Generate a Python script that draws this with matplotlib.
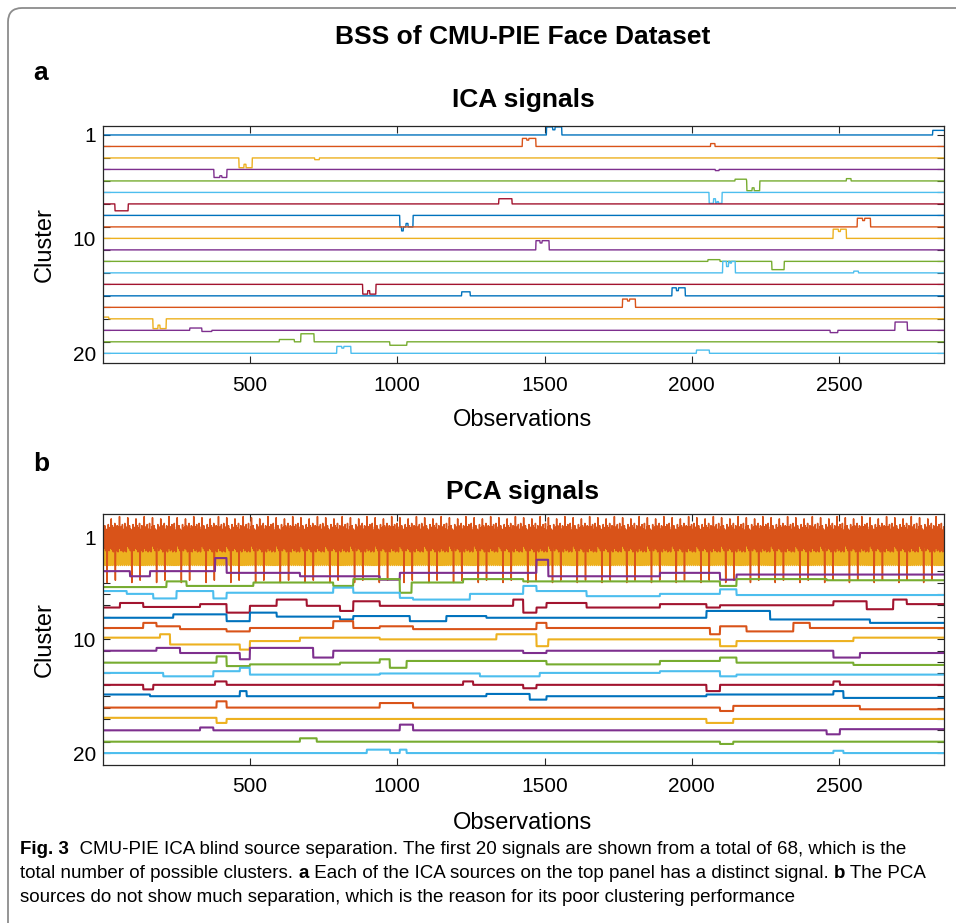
import numpy as np
import matplotlib.pyplot as plt
from matplotlib.patches import FancyBboxPatch
from matplotlib.transforms import IdentityTransform

n_obs = 2856
obs = np.arange(1, n_obs + 1)
clusters = np.arange(1, 21)
labelled = [1, 10, 20]
xticks = [500, 1000, 1500, 2000, 2500]

# ICA sources: flat signals with short pulses (start obs, end obs, height, up = positive)
# later entries of a source overwrite earlier ones (notches inside pulses)
ica_pulses = [
    [(1507, 1558, 0.7), (1528, 1535, 0.45), (2818, 2856, 0.4)],
    [(1425, 1470, 0.7), (1440, 1446, 0.55), (2064, 2078, 0.25)],
    [(463, 507, -0.85), (480, 486, -0.55), (720, 735, -0.15)],
    [(378, 421, -0.7), (398, 404, -0.55), (2080, 2092, -0.1)],
    [(2147, 2185, 0.15), (2187, 2230, -0.85), (2205, 2211, -0.6), (2525, 2540, 0.2)],
    [(2059, 2102, -0.95), (2074, 2080, -0.55), (2086, 2090, -0.8)],
    [(42, 86, -0.6), (1345, 1389, 0.45)],
    [(1009, 1053, -1.0), (1015, 1020, -1.35), (1030, 1036, -0.7)],
    [(2562, 2606, 0.75), (2580, 2586, 0.55)],
    [(2480, 2524, 0.8), (2498, 2504, 0.6)],
    [(1471, 1515, 0.8), (1485, 1491, 0.6)],
    [(2055, 2095, 0.15), (2272, 2313, -0.72)],
    [(2105, 2147, 1.0), (2118, 2124, 0.55), (2130, 2134, 0.85), (2550, 2565, 0.15)],
    [(883, 927, -0.85), (900, 906, -0.55)],
    [(1219, 1247, 0.35), (1933, 1977, 0.7), (1948, 1954, 0.45)],
    [(1765, 1808, 0.72), (1782, 1788, 0.55)],
    [(1, 20, 0.15), (171, 215, -0.85), (188, 194, -0.55)],
    [(296, 336, 0.2), (337, 370, -0.1), (2470, 2495, -0.2), (2690, 2731, 0.72)],
    [(600, 650, 0.2), (673, 717, 0.7), (975, 1032, -0.3)],
    [(795, 842, 0.6), (812, 818, 0.45), (2016, 2059, 0.28)],
]

# PCA sources 1-3: repeating illumination pattern, one cycle each
pca_blue_cycle = [0.4, -0.5, 0.2, -0.6, 0.5, -0.1, -0.5, 0.3, -0.3, 0.6, -0.6, 0.1]
pca_orange_cycle = [
    2.7, 1.0, 1.8, 0.4, 1.3, 0.0, 2.0, 0.6, 1.1, -0.2, 1.7, 0.5, 1.2, -0.3,
    -3.0, 0.4, 1.6, 0.1, 2.1, 0.7, 1.2, -0.2, 1.8, 0.3, 1.0, 0.0, 1.9, 0.5,
    2.6, 0.6, 1.5, -0.1, 2.0, 0.8, 1.1, -0.3, 1.8, 0.2, 0.9, 0.6, 2.2, 0.1,
    -2.8, 0.8, 1.4, -0.2, 1.7, 0.5, 2.0, 0.2, 1.0, -0.3, 1.6, 0.7, 1.9, 0.0,
    2.8, 0.3, 1.6, 0.2, 1.2, -0.2, 1.9, 0.7, 1.1, -0.1, 2.1, 0.4, 1.4, -0.3,
    1.0, 0.2, 1.7, -0.2, 2.2, 0.5, 1.3, 0.0, 1.6, -0.3, 1.0, 0.8, 1.9, 0.2,
]
pca_yellow_cycle = [1.5, -0.3, 0.8, -0.5, 1.2, 0.2, -0.4, 1.0, -0.2, 0.6, -0.5, 1.3, 0.0, -0.3]

# PCA sources 4-20: level changes (from obs, level, up = positive)
pca_steps = [
    [(1, 0), (93, -0.45), (161, 0), (382, 1.15), (421, -0.15), (670, -0.45), (941, -0.75),
     (1009, -0.15), (1473, 1.0), (1513, -0.45), (1892, -0.15), (2096, -0.75), (2152, -0.3)],
    [(1, -0.4), (217, 0.1), (285, -0.3), (512, 0), (783, -0.3), (851, 0.3), (1009, -0.9),
     (1049, 0), (1224, 0.3), (1428, 0.1), (2096, -0.3), (2152, 0.3), (2458, 0.2)],
    [(1, 0.25), (82, 0), (172, -0.4), (251, 0.25), (376, -0.4), (421, 0.1), (783, 0.55),
     (851, 0.1), (1009, -0.35), (1054, -0.5), (1247, 0), (1428, 0.7), (1473, 0.25),
     (1643, -0.2), (1892, 0), (2096, 0.4), (2152, -0.1)],
    [(1, -0.2), (59, 0.2), (138, -0.15), (331, 0.1), (421, -0.65), (500, -0.05), (591, 0.5),
     (693, -0.05), (806, -0.5), (851, 0.35), (941, -0.05), (1394, 0.5), (1428, -0.65),
     (1473, -0.2), (1507, 0.2), (1643, -0.2), (1892, 0.1), (2050, -0.2), (2096, 0),
     (2481, 0.35), (2594, -0.35), (2684, 0.5), (2730, 0.1)],
    [(1, -0.1), (240, 0.2), (421, -0.4), (500, 0.35), (591, 0), (806, -0.25), (851, 0.05),
     (1043, -0.4), (1167, 0.05), (1303, -0.1), (2050, 0.5), (2266, -0.25), (2605, -0.55)],
    [(1, 0), (138, 0.45), (183, 0.15), (263, -0.1), (421, -0.3), (500, 0), (783, 0.6),
     (851, 0), (941, 0.15), (1054, -0.1), (1473, 0.45), (1507, 0), (2062, -0.55),
     (2096, 0.15), (2186, -0.3), (2345, 0.45), (2401, 0)],
    [(1, 0.15), (195, 0.45), (229, -0.45), (466, -0.9), (500, -0.15), (670, 0.15), (941, 0),
     (1337, 0.45), (1473, -0.6), (1513, 0), (2096, -0.6), (2152, -0.15), (2549, 0.15)],
    [(1, 0), (183, 0.25), (263, -0.2), (466, -0.75), (500, 0.25), (715, -0.6), (783, 0),
     (1428, -0.2), (1507, 0), (2481, -0.6), (2571, -0.2)],
    [(1, -0.05), (387, 0.5), (421, -0.35), (500, -0.2), (806, -0.05), (941, 0.25),
     (975, -0.5), (1032, 0.1), (1507, -0.2), (1892, 0.1), (2096, 0.4), (2152, -0.05),
     (2549, -0.25)],
    [(1, 0.05), (206, -0.25), (376, 0.2), (466, 0.5), (500, -0.1), (941, 0), (1281, -0.25),
     (1484, 0.05), (1892, 0.2), (2096, -0.25), (2152, -0.1)],
    [(1, 0), (138, -0.4), (172, 0), (382, 0.3), (421, 0), (1224, 0.3), (1258, 0),
     (1428, -0.3), (1473, 0), (2050, -0.55), (2096, 0), (2481, 0.3), (2503, 0)],
    [(1, 0.15), (161, 0), (466, 0.45), (489, 0), (1303, 0.2), (1450, -0.3), (1507, 0),
     (2050, 0.15), (2481, 0.45), (2515, -0.15)],
    [(1, 0), (387, 0.55), (421, 0), (941, 0.4), (1054, 0), (2096, -0.3), (2141, 0.15),
     (2571, -0.15)],
    [(1, 0.1), (387, -0.35), (421, 0), (2050, -0.35), (2141, 0)],
    [(1, 0), (331, 0.25), (376, 0), (1009, 0.5), (1054, 0), (2458, -0.35), (2503, 0.1)],
    [(1, 0), (670, 0.3), (727, 0), (2096, -0.2), (2141, 0)],
    [(1, 0), (897, 0.3), (976, 0), (1009, 0.3), (1032, 0), (2481, 0.2), (2515, 0)],
]

colors = ['#0072BD', '#D95319', '#EDB120', '#7E2F8E', '#77AC30', '#4DBEEE', '#A2142F']
W, H = 956, 923

plt.rcParams['font.family'] = ['Liberation Sans', 'DejaVu Sans']
fig = plt.figure(figsize=(W / 100, H / 100), dpi=100)


def fx(x):
    return x / W


def fy(y):
    return 1 - y / H


def style_axes(ax, ylim):
    ax.set_xlim(1, n_obs)
    ax.set_ylim(*ylim)
    ax.set_xticks(xticks)
    ax.set_yticks(clusters)
    ax.set_yticklabels([str(c) if c in labelled else '' for c in clusters])
    ax.tick_params(direction='in', top=True, right=True, length=5, width=0.8,
                   labelsize=15, colors='#262626', labelcolor='black')
    ax.tick_params(axis='x', pad=9)
    ax.tick_params(axis='y', pad=5)
    for sp in ax.spines.values():
        sp.set_color('#262626')
        sp.set_linewidth(0.9)


# panel a
ax_a = fig.add_axes([fx(103), fy(363.3), 841 / W, (363.3 - 126) / H])
for i, pulses in enumerate(ica_pulses):
    s = np.zeros(n_obs)
    for a, b, h in pulses:
        s[a - 1:b] = h
    ax_a.plot(obs, i + 1 - s, color=colors[i % 7], lw=1.0)
style_axes(ax_a, (20.87, 0.22))

# panel b
ax_b = fig.add_axes([fx(103), fy(765), 841 / W, (765 - 514.3) / H])
top_cycles = [pca_blue_cycle, pca_orange_cycle, pca_yellow_cycle]
z_top = [2, 2.2, 2.1]
for i, cyc in enumerate(top_cycles):
    s = np.tile(cyc, n_obs // len(cyc))
    ax_b.plot(obs, i + 1 - s, color=colors[i], lw=1.1, zorder=z_top[i])
for k, steps in enumerate(pca_steps):
    i = k + 3
    s = np.zeros(n_obs)
    for x0, v in steps:
        s[obs >= x0] = v
    ax_b.plot(obs, i + 1 - s, color=colors[i % 7], lw=1.5, zorder=2.3)
style_axes(ax_b, (21.05, -1.0))

# texts
title_kw = dict(fontsize=19, fontweight='bold', ha='center', va='center')
fig.text(fx(523), fy(37), 'BSS of CMU-PIE Face Dataset', **title_kw)
fig.text(fx(523), fy(100), 'ICA signals', **title_kw)
fig.text(fx(523), fy(492), 'PCA signals', **title_kw)
fig.text(fx(33), fy(73), 'a', fontsize=19, fontweight='bold', va='center')
fig.text(fx(33), fy(464), 'b', fontsize=19, fontweight='bold', va='center')
for yy in (420, 823):
    fig.text(fx(523), fy(yy), 'Observations', fontsize=17, ha='center', va='center')
for yy in (245, 640):
    fig.text(fx(45), fy(yy), 'Cluster', fontsize=17, rotation=90, ha='center', va='center')

# rounded frame around the figure
frame = FancyBboxPatch((8, -30), 1000, H - 8 + 30, boxstyle='round,pad=0,rounding_size=14',
                       transform=IdentityTransform(), fill=False, ec='#8c8c8c', lw=1.3)
fig.add_artist(frame)

# caption with inline bold words
cap_family = ['Liberation Sans Narrow', 'Liberation Sans']
caption = [
    [('Fig. 3', 'bold'), ('  CMU-PIE ICA blind source separation. The first 20 signals are shown '
                          'from a total of 68, which is the', 'normal')],
    [('total number of possible clusters. ', 'normal'), ('a', 'bold'),
     (' Each of the ICA sources on the top panel has a distinct signal. ', 'normal'),
     ('b', 'bold'), (' The PCA', 'normal')],
    [('sources do not show much separation, which is the reason for its poor clustering '
      'performance', 'normal')],
]
renderer = fig.canvas.get_renderer()


def line_width(parts, size):
    w = 0
    for txt, wt in parts:
        t = fig.text(0, 0, txt, fontsize=size, fontweight=wt, family=cap_family)
        w += t.get_window_extent(renderer).width
        t.remove()
    return w


cap_size = min(13 * 908 / line_width(caption[0], 13), 13 * 904 / line_width(caption[1], 13))
for parts, yy in zip(caption, (849, 873, 898)):
    x = 20
    for txt, wt in parts:
        t = fig.text(fx(x), fy(yy), txt, fontsize=cap_size, fontweight=wt,
                     family=cap_family, va='center')
        x += t.get_window_extent(renderer).width

fig.savefig('out.png', dpi=100)
